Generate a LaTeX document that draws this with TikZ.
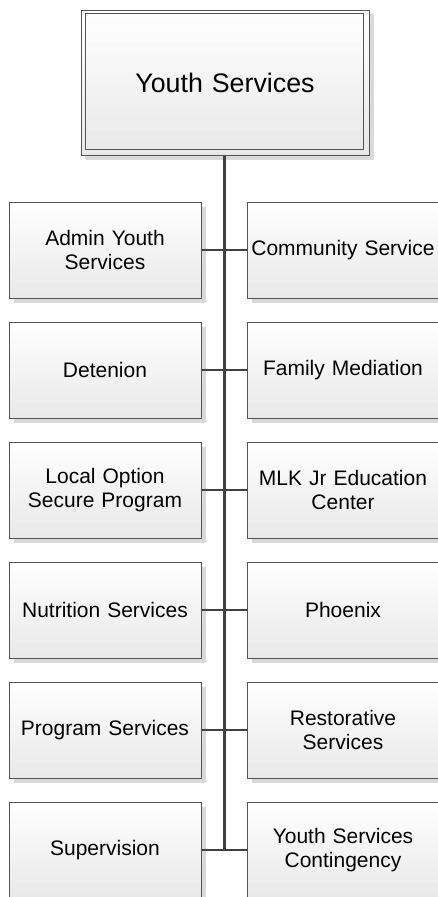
\documentclass[tikz,border=0pt]{standalone}
\usepackage{fontspec}
\setmainfont{Liberation Sans}
\usetikzlibrary{shadows}
\definecolor{boxline}{HTML}{555555}
\definecolor{linecol}{HTML}{404040}
\definecolor{shadowgray}{HTML}{D9D9D9}
\definecolor{boxbot}{HTML}{E8E8E8}
\tikzset{
  orgbox/.style={draw=boxline, line width=1pt, top color=white, bottom color=boxbot,
    minimum width=192pt, minimum height=96pt, text width=190pt, align=center,
    inner sep=0pt, font=\fontsize{21}{23.5}\selectfont,
    drop shadow={shadow xshift=5pt, shadow yshift=-5pt, fill=shadowgray, opacity=1}},
  topbox/.style={orgbox, minimum width=288pt, minimum height=145pt, text width=280pt,
    font=\fontsize{26.8}{30}\selectfont,
    drop shadow={shadow xshift=4pt, shadow yshift=-4pt, fill=shadowgray, opacity=1}},
  link/.style={draw=linecol, line width=2pt},
  trunk/.style={draw=linecol, line width=3.5pt}
}
\begin{document}
\begin{tikzpicture}[x=1pt,y=-1pt]
\useasboundingbox (0,0) rectangle (438,897);
\clip (0,0) rectangle (438,897);
\fill[white] (0,0) rectangle (438,897);
% top box
\node[topbox] (top) at (225,82.5) {Youth Services};
\draw[boxline, line width=1pt] ([xshift=4.5pt,yshift=-4pt]top.north west) rectangle ([xshift=-6pt,yshift=6.5pt]top.south east);
% left column
\node[orgbox] (l1) at (105,250) {Admin Youth\\Services};
\node[orgbox] (l2) at (105,370) {Detenion};
\node[orgbox] (l3) at (105,490) {Local Option\\Secure Program};
\node[orgbox] (l4) at (105,610) {Nutrition Services};
\node[orgbox] (l5) at (105,730) {Program Services};
\node[orgbox] (l6) at (105,850) {Supervision};
% right column
\node[orgbox] (r1) at (343,250) {Community Service};
\node[orgbox] (r2) at (343,370) {Family Mediation};
\node[orgbox] (r3) at (343,490) {MLK Jr Education\\Center};
\node[orgbox] (r4) at (343,610) {Phoenix};
\node[orgbox] (r5) at (343,730) {Restorative\\Services};
\node[orgbox] (r6) at (343,850) {Youth Services\\Contingency};
% connectors
\foreach \i in {1,...,6} {\draw[link] (l\i.east) -- (r\i.west);}
\coordinate (tend) at (224.5,850);
\draw[trunk] (top.south -| tend) -- (tend);
\end{tikzpicture}
\end{document}
